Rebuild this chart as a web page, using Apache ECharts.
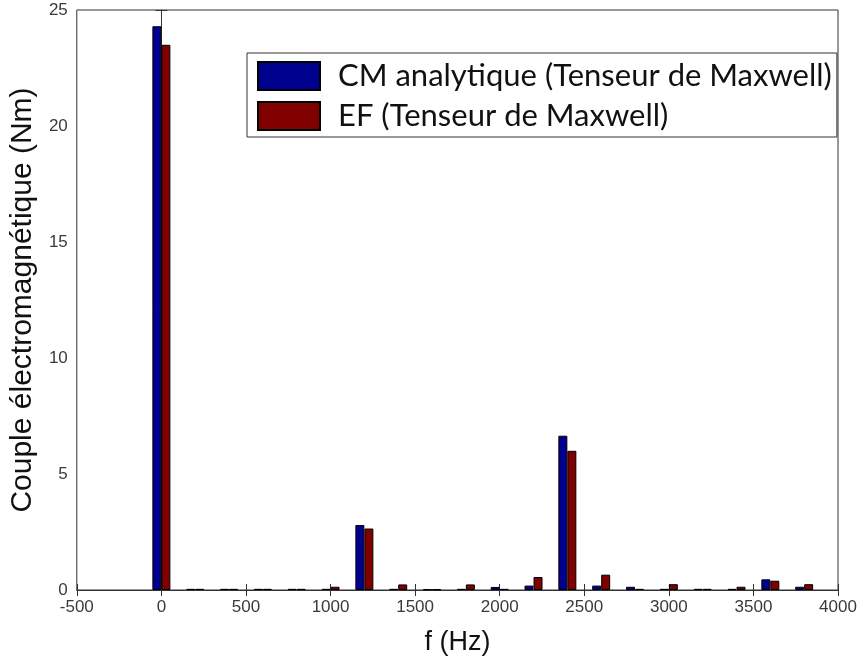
<!DOCTYPE html>
<html>
<head>
<meta charset="utf-8">
<script src="https://cdn.jsdelivr.net/npm/echarts@6/dist/echarts.min.js"></script>
<style>
  html, body { margin: 0; padding: 0; background: #fff; }
  #chart { width: 867px; height: 661px; }
</style>
</head>
<body>
<div id="chart"></div>
<script>
const FREQS = [0, 200, 400, 600, 800, 1000, 1200, 1400, 1600, 1800, 2000, 2200, 2400, 2600, 2800, 3000, 3200, 3400, 3600, 3800];
const CM_ANALYTIQUE = [24.3, 0.05, 0.05, 0.05, 0.05, 0.05, 2.8, 0.05, 0.03, 0.05, 0.13, 0.19, 6.65, 0.19, 0.14, 0.05, 0.05, 0.05, 0.46, 0.14];
const EF_MAXWELL = [23.5, 0.05, 0.05, 0.05, 0.05, 0.14, 2.65, 0.24, 0.03, 0.24, 0.05, 0.56, 6.0, 0.66, 0.05, 0.25, 0.05, 0.14, 0.4, 0.25];
const X_TICKS = [-500, 0, 500, 1000, 1500, 2000, 2500, 3000, 3500, 4000];
const Y_TICKS = [0, 5, 10, 15, 20, 25];

const chart = echarts.init(document.getElementById("chart"));

const labelFont = { color: "#3a3a3a", fontFamily: "Liberation Sans", fontSize: 17, formatter: (v) => String(v) };
const tickStyle = { show: true, inside: true, length: 6, lineStyle: { color: "#333" } };

function toPairs(vals) {
  return FREQS.map((f, i) => [f, vals[i]]);
}

const option = {
  animation: false,
  grid: { left: 76, right: 29, top: 10, bottom: 70, show: true, borderColor: "#333", borderWidth: 1 },
  legend: {
    left: 247,
    top: 53,
    orient: "vertical",
    icon: "rect",
    itemWidth: 62,
    itemHeight: 28,
    itemGap: 0,
    padding: [3, 5, 1, 10],
    borderColor: "#333",
    borderWidth: 1,
    backgroundColor: "#fff",
    textStyle: { fontFamily: "Lato", fontSize: 31, lineHeight: 40, color: "#111", padding: [0, 0, 0, 13] },
    data: ["CM analytique (Tenseur de Maxwell)", "EF (Tenseur de Maxwell)"],
  },
  xAxis: [
    {
      type: "value",
      min: X_TICKS[0],
      max: X_TICKS[X_TICKS.length - 1],
      interval: 500,
      name: "f (Hz)",
      nameLocation: "middle",
      nameGap: 39,
      nameTextStyle: { fontFamily: "Liberation Sans", fontSize: 27, color: "#111" },
      axisLine: { show: true, onZero: false, lineStyle: { color: "#333" } },
      axisTick: tickStyle,
      axisLabel: { ...labelFont, margin: 9 },
      splitLine: { show: false },
    },
    {
      type: "value",
      position: "top",
      min: X_TICKS[0],
      max: X_TICKS[X_TICKS.length - 1],
      interval: 500,
      axisLine: { show: false },
      axisTick: tickStyle,
      axisLabel: { show: false },
      splitLine: { show: false },
    },
  ],
  yAxis: [
    {
      type: "value",
      min: Y_TICKS[0],
      max: Y_TICKS[Y_TICKS.length - 1],
      interval: 5,
      name: "Couple électromagnétique (Nm)",
      nameLocation: "middle",
      nameGap: 34,
      nameTextStyle: { fontFamily: "Liberation Sans", fontSize: 30, color: "#111" },
      axisLine: { show: true, lineStyle: { color: "#333" } },
      axisTick: tickStyle,
      axisLabel: { ...labelFont, margin: 9 },
      splitLine: { show: false },
    },
    {
      type: "value",
      position: "right",
      min: Y_TICKS[0],
      max: Y_TICKS[Y_TICKS.length - 1],
      interval: 5,
      axisLine: { show: false },
      axisTick: tickStyle,
      axisLabel: { show: false },
      splitLine: { show: false },
    },
  ],
  series: [
    {
      name: "CM analytique (Tenseur de Maxwell)",
      type: "bar",
      barWidth: 9,
      barGap: "0%",
      itemStyle: { color: "#00008f", borderColor: "#000", borderWidth: 1 },
      data: toPairs(CM_ANALYTIQUE),
    },
    {
      name: "EF (Tenseur de Maxwell)",
      type: "bar",
      barWidth: 9,
      barGap: "0%",
      itemStyle: { color: "#800000", borderColor: "#000", borderWidth: 1 },
      data: toPairs(EF_MAXWELL),
    },
  ],
};

chart.setOption(option);
</script>
</body>
</html>
